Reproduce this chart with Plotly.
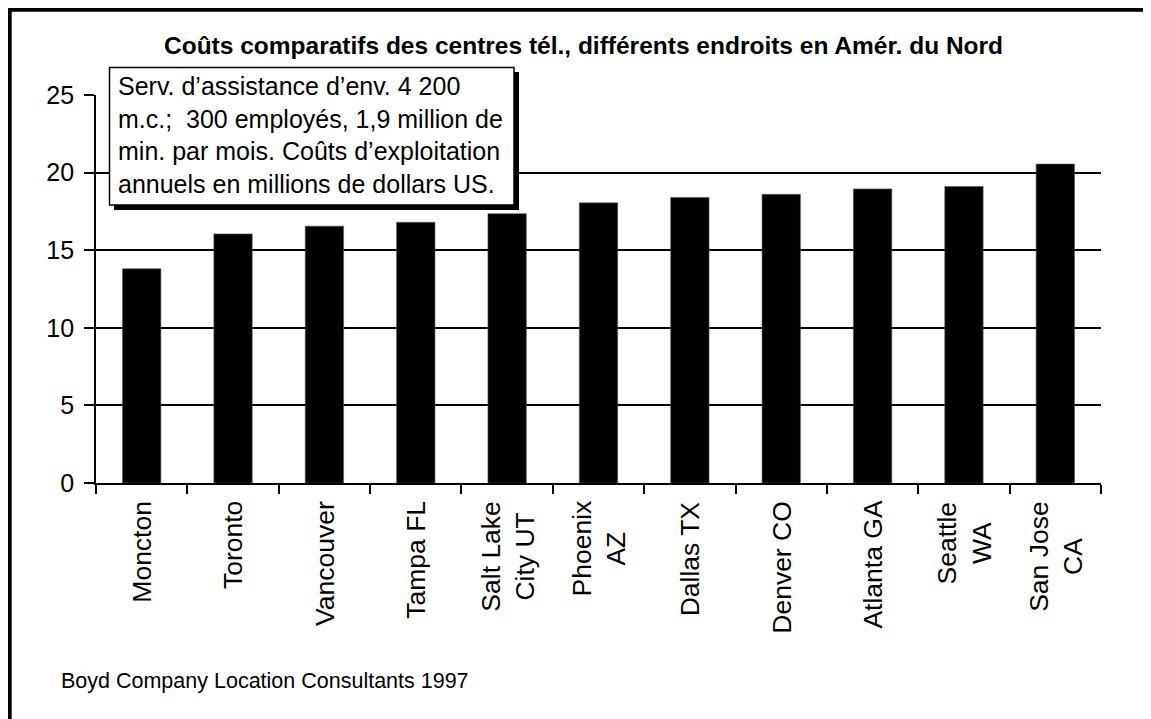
import plotly.graph_objects as go

# ---- data ----
categories = ["Moncton", "Toronto", "Vancouver", "Tampa FL", "Salt Lake<br>City UT",
              "Phoenix<br>AZ", "Dallas TX", "Denver CO", "Atlanta GA", "Seattle<br>WA",
              "San Jose<br>CA"]
costs = [13.8, 16.05, 16.55, 16.8, 17.35, 18.05, 18.4, 18.6, 18.95, 19.1, 20.55]
y_ticks = [0, 5, 10, 15, 20, 25]
title_text = "Coûts comparatifs des centres tél., différents endroits en Amér. du Nord"
note_text = ("Serv. d’assistance d’env. 4 200<br>m.c.;  300 employés, 1,9 million de<br>"
             "min. par mois. Coûts d’exploitation<br>annuels en millions de dollars US.")
source_text = "Boyd Company Location Consultants 1997"

# page body has an 8px default margin -> figure sized to fit the window
OFF = 8
W, H = 1151 - OFF, 719 - OFF
L, R, T, B = 88, 50, 87, 236
PW, PH = W - L - R, H - T - B
FONT = "Liberation Sans, Arial, sans-serif"


def px(sx):
    """screen x -> paper x"""
    return (sx - OFF - L) / PW


def py(sy):
    """screen y -> paper y"""
    return (H - B - (sy - OFF)) / PH


fig = go.Figure()
fig.add_trace(go.Bar(x=categories, y=costs, width=0.42,
                     marker=dict(color="black", line=dict(color="#555", width=0.6))))

fig.update_layout(
    width=W, height=H,
    margin=dict(l=L, r=R, t=T, b=B, pad=0),
    paper_bgcolor="white", plot_bgcolor="white",
    showlegend=False,
    font=dict(family=FONT, color="black", size=25),
)
fig.update_xaxes(
    type="category", showticklabels=False, showgrid=False, automargin=False,
    showline=True, linecolor="black", linewidth=1.7,
    ticks="outside", tickson="boundaries", ticklen=9, tickwidth=1.5, tickcolor="black",
    range=[-0.5, len(categories) - 0.5], fixedrange=True,
)
fig.update_yaxes(
    range=[0, 25], tickvals=y_ticks, ticktext=[str(v) for v in y_ticks], automargin=False,
    showgrid=True, gridcolor="black", gridwidth=1.7, zeroline=False,
    showline=True, linecolor="black", linewidth=1.7,
    ticks="outside", ticklen=10, tickwidth=1.5, tickcolor="black",
    tickfont=dict(size=25, family=FONT, color="black"), ticklabelstandoff=5,
    fixedrange=True,
)

# category labels (rotated, centered multi-line)
for c in categories:
    fig.add_annotation(x=c, xref="x", y=0, yref="paper", yshift=-16,
                       text=c, textangle=-90, showarrow=False,
                       xanchor="center", yanchor="top", align="center",
                       font=dict(size=26.5, family=FONT, color="black"))

# outer frame (left and top edges)
fig.add_shape(type="line", xref="paper", yref="paper",
              x0=px(9.5), x1=px(9.5), y0=py(7.3), y1=py(730),
              line=dict(color="black", width=4.4))
fig.add_shape(type="line", xref="paper", yref="paper",
              x0=px(7.3), x1=px(1160), y0=py(9.5), y1=py(9.5),
              line=dict(color="black", width=4.4))

# note box with shadow
fig.add_shape(type="rect", xref="paper", yref="paper", layer="above",
              x0=px(114), x1=px(519), y0=py(72), y1=py(210),
              fillcolor="black", line=dict(color="black", width=0))
fig.add_shape(type="rect", xref="paper", yref="paper", layer="above",
              x0=px(109.5), x1=px(514), y0=py(67.5), y1=py(205),
              fillcolor="white", line=dict(color="black", width=1.5))
fig.add_annotation(x=px(116), y=py(135), xref="paper", yref="paper",
                   text=note_text, showarrow=False, xanchor="left", yanchor="middle",
                   align="left", font=dict(size=25, family=FONT, color="black"))

# title
fig.add_annotation(x=px(583.5), y=py(45), xref="paper", yref="paper",
                   text="<b>" + title_text + "</b>", showarrow=False,
                   xanchor="center", yanchor="middle",
                   font=dict(size=24.5, family=FONT, color="black"))

# source note
fig.add_annotation(x=px(59), y=py(681), xref="paper", yref="paper",
                   text=source_text, showarrow=False,
                   xanchor="left", yanchor="middle",
                   font=dict(size=21.5, family=FONT, color="black"))

fig.write_html("out.html", config={"displayModeBar": False})
